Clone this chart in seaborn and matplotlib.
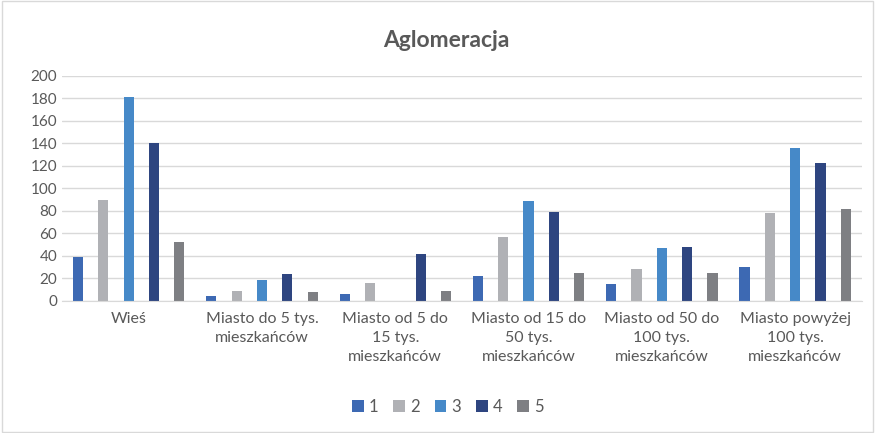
import matplotlib
matplotlib.use('Agg')
import matplotlib.pyplot as plt
import seaborn as sns
import pandas as pd

categories = ['Wieś', 'Miasto do 5 tys.\nmieszkańców', 'Miasto od 5 do\n15 tys.\nmieszkańców',
              'Miasto od 15 do\n50 tys.\nmieszkańców', 'Miasto od 50 do\n100 tys.\nmieszkańców',
              'Miasto powyżej\n100 tys.\nmieszkańców']
series = ['1', '2', '3', '4', '5']
v1 = [39, 4, 6, 22, 15, 30]
v2 = [90, 9, 16, 57, 28, 78]
v3 = [181, 19, 0, 89, 47, 136]
v4 = [140, 24, 42, 79, 48, 123]
v5 = [52, 8, 9, 25, 25, 82]
colors = ['#3D69B3', '#B0B1B5', '#4689C8', '#2E4580', '#7E7F83']

rows = []
for s, vals in zip(series, [v1, v2, v3, v4, v5]):
    for c, v in zip(categories, vals):
        rows.append({'cat': c, 'ser': s, 'val': v})
df = pd.DataFrame(rows)

sns.set_style('white')
plt.rcParams['font.family'] = ['Lato', 'DejaVu Sans']

fig = plt.figure(figsize=(8.75, 4.33), dpi=100)
ax = fig.add_axes([0.0709, 0.305, 0.914, 0.5196])
sns.barplot(data=df, x='cat', y='val', hue='ser', palette=colors, width=0.95, gap=0.6,
            ax=ax, saturation=1, legend=True, linewidth=0)

ax.set_ylim(0, 200)
ax.set_yticks(range(0, 201, 20))
ax.yaxis.grid(True, color='#D9D9D9', linewidth=1)
ax.set_axisbelow(True)
for sp in ['top', 'right', 'left']:
    ax.spines[sp].set_visible(False)
ax.spines['bottom'].set_color('#D9D9D9')
ax.tick_params(axis='both', length=0, labelsize=11, labelcolor='#595959')
ax.tick_params(axis='x', pad=8)
ax.set_xlabel('')
ax.set_ylabel('')
for lab in ax.get_xticklabels():
    lab.set_linespacing(1.45)
    lab.set_fontsize(11.5)
fig.text(0.51, 0.907, 'Aglomeracja', fontsize=16.5, fontweight='bold', color='#595959',
         ha='center', va='center')

leg = ax.legend(loc='center', bbox_to_anchor=(0.4825, -0.47), ncol=5, frameon=False,
                fontsize=12, handlelength=0.7, handleheight=0.7, handletextpad=0.3,
                columnspacing=0.9)
for t in leg.get_texts():
    t.set_color('#595959')

fig.patches.append(plt.Rectangle((0.002, 0.002), 0.996, 0.996, transform=fig.transFigure,
                                 fill=False, edgecolor='#D9D9D9', linewidth=1))
fig.savefig('out.png', dpi=100)
